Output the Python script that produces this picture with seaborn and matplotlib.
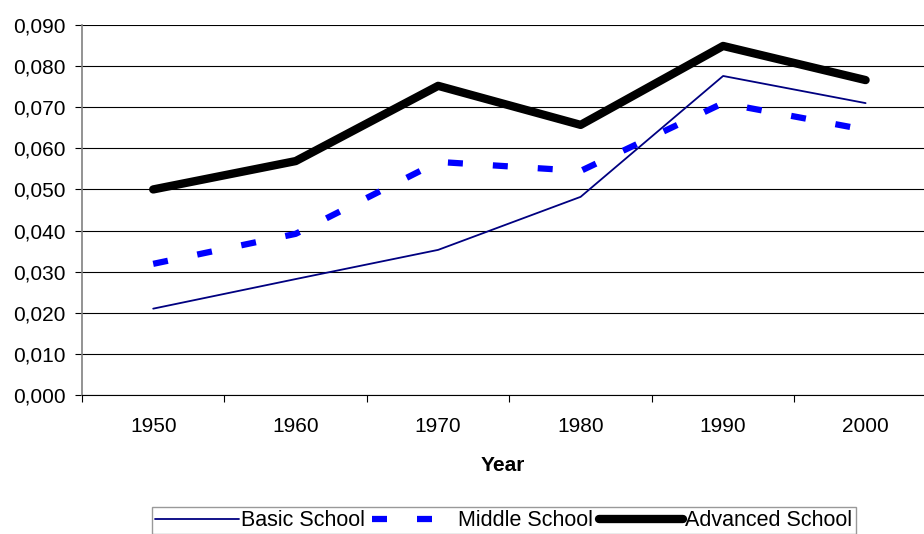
import pandas as pd
import matplotlib
matplotlib.use("Agg")
import matplotlib.pyplot as plt
import seaborn as sns
from matplotlib.ticker import FuncFormatter, FixedLocator

# Data
years = ["1950", "1960", "1970", "1980", "1990", "2000"]
basic = [0.0210, 0.0282, 0.0353, 0.0482, 0.0776, 0.0710]
middle = [0.0319, 0.0392, 0.0567, 0.0545, 0.0710, 0.0645]
advanced = [0.0500, 0.0569, 0.0752, 0.0657, 0.0849, 0.0766]
series_names = ["Basic School", "Middle School", "Advanced School"]

df = pd.DataFrame({"Year": years * 3,
                   "value": basic + middle + advanced,
                   "series": [s for s in series_names for _ in years]})
df["pos"] = df["Year"].map({y: i for i, y in enumerate(years)})

sns.set_style("white")
plt.rcParams["font.family"] = ["Liberation Sans", "DejaVu Sans"]
plt.rcParams["text.color"] = "black"
plt.rcParams["xtick.color"] = "black"
plt.rcParams["ytick.color"] = "black"
plt.rcParams["axes.labelcolor"] = "black"

fs = 15

fig = plt.figure(figsize=(9.24, 5.34), dpi=100)
ax = fig.add_axes([0.0887, 0.2603, 0.9113, 0.6929])

styles = {
    "Basic School": dict(color="#000080", lw=1.3, ls="-"),
    "Middle School": dict(color="#0000FF", lw=4.5, ls=(0, (2.4, 4.8))),
    "Advanced School": dict(color="#000000", lw=6.0, ls="-"),
}
for name in series_names:
    st = styles[name]
    sns.lineplot(data=df[df["series"] == name], x="pos", y="value", ax=ax,
                 color=st["color"], linewidth=st["lw"], linestyle=st["ls"],
                 label=name, solid_capstyle="round", dash_capstyle="butt")

ax.set_xlim(-0.5, 5.41)
ax.set_ylim(0, 0.09)
ax.set_yticks([i * 0.01 for i in range(10)])
ax.yaxis.set_major_formatter(FuncFormatter(lambda v, p: f"{v:.3f}".replace(".", ",")))
ax.set_xticks(range(len(years)))
ax.set_xticklabels(years)
ax.xaxis.set_minor_locator(FixedLocator([i - 0.5 for i in range(len(years) + 1)]))
ax.tick_params(axis="x", which="major", bottom=True, length=0, pad=16, labelsize=fs)
ax.tick_params(axis="x", which="minor", bottom=True, length=5, width=0.8, color="black", direction="out")
ax.tick_params(axis="y", left=True, length=5, width=0.8, color="black", direction="out", labelsize=fs, pad=7)
ax.yaxis.grid(True, color="black", linewidth=0.8)
ax.set_axisbelow(True)

for side in ["top", "right"]:
    ax.spines[side].set_visible(False)
ax.spines["left"].set_color("#808080")
ax.spines["left"].set_linewidth(1.2)
ax.spines["bottom"].set_color("black")
ax.spines["bottom"].set_linewidth(0.8)

ax.set_xlabel("Year", fontsize=fs, fontweight="bold", labelpad=14)
ax.set_ylabel("")

leg = ax.legend(loc="upper left", bbox_to_anchor=(152 / 924, 1 - 507 / 534), bbox_transform=fig.transFigure,
                ncol=3, frameon=True, fancybox=False, edgecolor="#808080", fontsize=15.5,
                handlelength=3.9, handletextpad=0.1, columnspacing=0.3, borderpad=0.15,
                borderaxespad=0)
leg.get_frame().set_linewidth(1.0)

fig.savefig("out.png", dpi=100)
